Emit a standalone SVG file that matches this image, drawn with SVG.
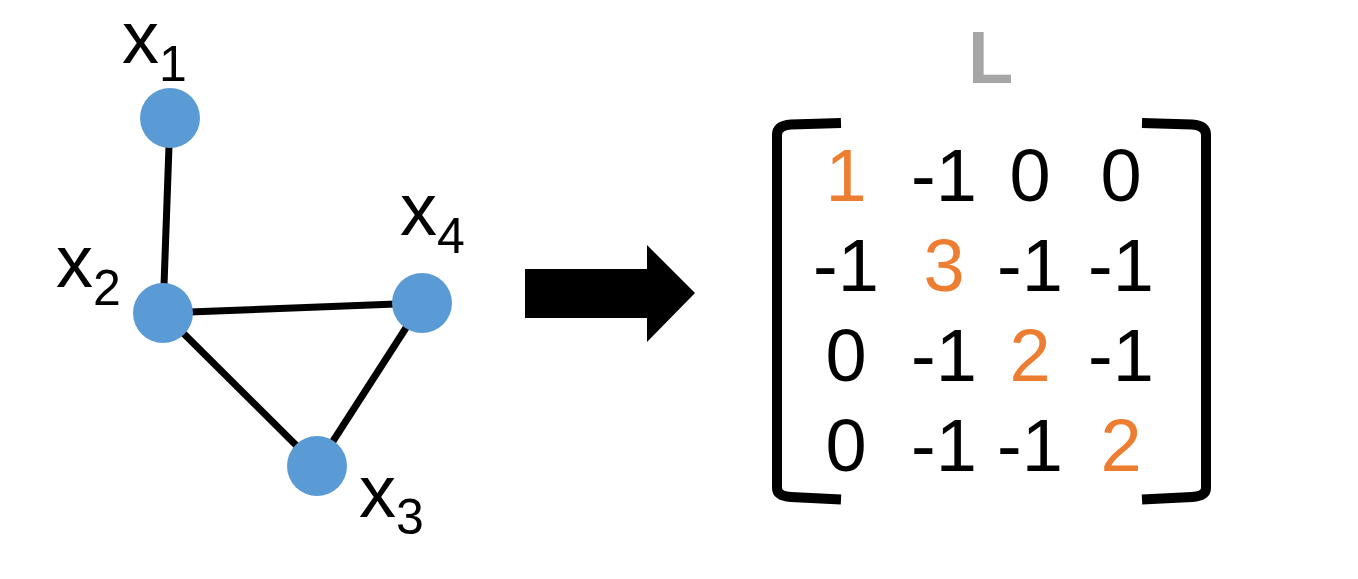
<svg xmlns="http://www.w3.org/2000/svg" width="1358" height="579" viewBox="0 0 1358 579">
<style>
.lbl{font-family:"Liberation Sans",Arial,sans-serif;font-size:74px;fill:#000}
.sub{font-size:50px}
.m{font-family:"Liberation Sans",Arial,sans-serif;font-size:74px;fill:#000;text-anchor:middle}
.d{fill:#ED7D31}
.edge{stroke:#000;stroke-width:7;fill:none}
.node{fill:#5B9BD5}
.br{stroke:#000;stroke-width:10;fill:none}
</style>
<rect width="1358" height="579" fill="#fff"/>
<g id="connectors">
<line class="edge" x1="170" y1="118" x2="163" y2="313"/>
<line class="edge" x1="163" y1="313" x2="422" y2="303"/>
<line class="edge" x1="163" y1="313" x2="317" y2="466"/>
<line class="edge" x1="422" y1="303" x2="317" y2="466"/>
</g>
<g id="node-x1"><circle class="node" cx="170" cy="118" r="30"/><text class="lbl" x="122" y="63">x<tspan class="sub" dy="18">1</tspan></text></g>
<g id="node-x2"><circle class="node" cx="163" cy="313" r="30"/><text class="lbl" x="56" y="287">x<tspan class="sub" dy="18">2</tspan></text></g>
<g id="node-x4"><circle class="node" cx="422" cy="303" r="30"/><text class="lbl" x="400" y="235">x<tspan class="sub" dy="18">4</tspan></text></g>
<g id="node-x3"><circle class="node" cx="317" cy="466" r="30"/><text class="lbl" x="359" y="517">x<tspan class="sub" dy="17">3</tspan></text></g>
<g id="arrow"><polygon points="525,269 647,269 647,245 695,293 647,342 647,318 525,318" fill="#000"/></g>
<g id="matrix">
<text x="968" y="83" style="font-family:'Liberation Sans',Arial,sans-serif;font-size:74px;font-weight:bold;fill:#A6A6A6">L</text>
<path class="br" d="M841 123 L791 124.5 Q777 125.5 777 135 L777 488 Q777 496 791 497 L841 499.5"/>
<path class="br" d="M1142 123 L1192 124.5 Q1206 125.5 1206 135 L1206 488 Q1206 496 1192 497 L1142 499.5"/>
<text class="m d" x="846" y="201">1</text><text class="m" x="944" y="201">-1</text><text class="m" x="1030" y="201">0</text><text class="m" x="1121" y="201">0</text>
<text class="m" x="846" y="291">-1</text><text class="m d" x="944" y="291">3</text><text class="m" x="1030" y="291">-1</text><text class="m" x="1121" y="291">-1</text>
<text class="m" x="846" y="381">0</text><text class="m" x="944" y="381">-1</text><text class="m d" x="1030" y="381">2</text><text class="m" x="1121" y="381">-1</text>
<text class="m" x="846" y="471">0</text><text class="m" x="944" y="471">-1</text><text class="m" x="1030" y="471">-1</text><text class="m d" x="1121" y="471">2</text>
</g>
</svg>
